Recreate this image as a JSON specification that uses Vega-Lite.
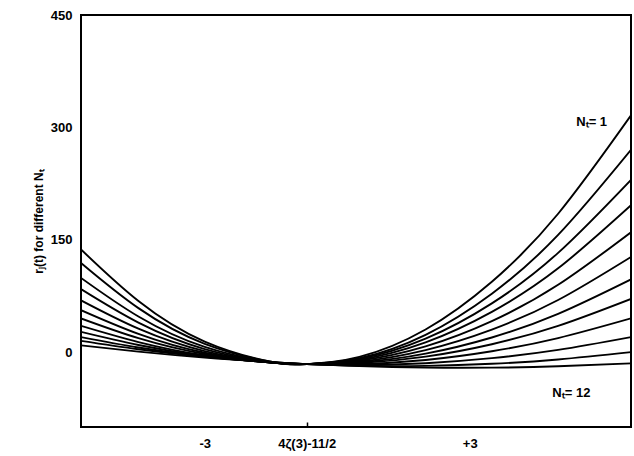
{
  "$schema": "https://vega.github.io/schema/vega-lite/v6.json",
  "width": 550,
  "height": 412,
  "autosize": {"type": "none"},
  "padding": {"left": 81, "top": 15, "right": 3, "bottom": 29},
  "background": "white",
  "config": {"view": {"stroke": "black", "strokeWidth": 2}, "font": "Liberation Sans"},
  "datasets": {
    "curves": [
      {"N":1,"t":-5.8,"r":137.0},{"N":1,"t":-4.5,"r":68.2},{"N":1,"t":-3,"r":14.1},{"N":1,"t":-1.5,"r":-12.8},{"N":1,"t":-0.69,"r":-16},{"N":1,"t":0.5,"r":-6.4},{"N":1,"t":2,"r":30.1},{"N":1,"t":3.5,"r":93.8},{"N":1,"t":5,"r":184.7},{"N":1,"t":6.65,"r":316.0},
      {"N":2,"t":-5.8,"r":119.0},{"N":2,"t":-4.5,"r":58.7},{"N":2,"t":-3,"r":11.1},{"N":2,"t":-1.5,"r":-12.9},{"N":2,"t":-0.69,"r":-16},{"N":2,"t":0.5,"r":-8.1},{"N":2,"t":2,"r":23.1},{"N":2,"t":3.5,"r":77.9},{"N":2,"t":5,"r":156.4},{"N":2,"t":6.65,"r":270.0},
      {"N":3,"t":-5.8,"r":99.0},{"N":3,"t":-4.5,"r":47.5},{"N":3,"t":-3,"r":6.9},{"N":3,"t":-1.5,"r":-13.4},{"N":3,"t":-0.69,"r":-16},{"N":3,"t":0.5,"r":-9.1},{"N":3,"t":2,"r":17.9},{"N":3,"t":3.5,"r":65.0},{"N":3,"t":5,"r":132.5},{"N":3,"t":6.65,"r":230.0},
      {"N":4,"t":-5.8,"r":84.0},{"N":4,"t":-4.5,"r":39.3},{"N":4,"t":-3,"r":4.0},{"N":4,"t":-1.5,"r":-13.7},{"N":4,"t":-0.69,"r":-16},{"N":4,"t":0.5,"r":-10.1},{"N":4,"t":2,"r":13.0},{"N":4,"t":3.5,"r":53.7},{"N":4,"t":5,"r":111.8},{"N":4,"t":6.65,"r":196.0},
      {"N":5,"t":-5.8,"r":69.0},{"N":5,"t":-4.5,"r":31.2},{"N":5,"t":-3,"r":1.3},{"N":5,"t":-1.5,"r":-13.9},{"N":5,"t":-0.69,"r":-16},{"N":5,"t":0.5,"r":-11.3},{"N":5,"t":2,"r":7.7},{"N":5,"t":3.5,"r":41.4},{"N":5,"t":5,"r":89.8},{"N":5,"t":6.65,"r":160.0},
      {"N":6,"t":-5.8,"r":56.0},{"N":6,"t":-4.5,"r":24.3},{"N":6,"t":-3,"r":-0.9},{"N":6,"t":-1.5,"r":-14.0},{"N":6,"t":-0.69,"r":-16},{"N":6,"t":0.5,"r":-12.6},{"N":6,"t":2,"r":2.7},{"N":6,"t":3.5,"r":30.0},{"N":6,"t":5,"r":69.5},{"N":6,"t":6.65,"r":127.0},
      {"N":7,"t":-5.8,"r":45.0},{"N":7,"t":-4.5,"r":18.6},{"N":7,"t":-3,"r":-2.6},{"N":7,"t":-1.5,"r":-14.0},{"N":7,"t":-0.69,"r":-16},{"N":7,"t":0.5,"r":-13.8},{"N":7,"t":2,"r":-2.1},{"N":7,"t":3.5,"r":19.5},{"N":7,"t":5,"r":51.0},{"N":7,"t":6.65,"r":97.0},
      {"N":8,"t":-5.8,"r":35.0},{"N":8,"t":-4.5,"r":13.4},{"N":8,"t":-3,"r":-4.3},{"N":8,"t":-1.5,"r":-14.0},{"N":8,"t":-0.69,"r":-16},{"N":8,"t":0.5,"r":-14.7},{"N":8,"t":2,"r":-6.1},{"N":8,"t":3.5,"r":10.5},{"N":8,"t":5,"r":35.0},{"N":8,"t":6.65,"r":71.0},
      {"N":9,"t":-5.8,"r":27.0},{"N":9,"t":-4.5,"r":9.4},{"N":9,"t":-3,"r":-5.3},{"N":9,"t":-1.5,"r":-13.9},{"N":9,"t":-0.69,"r":-16},{"N":9,"t":0.5,"r":-15.9},{"N":9,"t":2,"r":-10.5},{"N":9,"t":3.5,"r":1.1},{"N":9,"t":5,"r":18.7},{"N":9,"t":6.65,"r":45.0},
      {"N":10,"t":-5.8,"r":20.0},{"N":10,"t":-4.5,"r":6.1},{"N":10,"t":-3,"r":-5.9},{"N":10,"t":-1.5,"r":-13.6},{"N":10,"t":-0.69,"r":-16},{"N":10,"t":0.5,"r":-17.2},{"N":10,"t":2,"r":-14.8},{"N":10,"t":3.5,"r":-8.1},{"N":10,"t":5,"r":2.9},{"N":10,"t":6.65,"r":20.0},
      {"N":11,"t":-5.8,"r":15.0},{"N":11,"t":-4.5,"r":3.8},{"N":11,"t":-3,"r":-6.3},{"N":11,"t":-1.5,"r":-13.4},{"N":11,"t":-0.69,"r":-16},{"N":11,"t":0.5,"r":-18.3},{"N":11,"t":2,"r":-18.4},{"N":11,"t":3.5,"r":-15.6},{"N":11,"t":5,"r":-9.8},{"N":11,"t":6.65,"r":0.0},
      {"N":12,"t":-5.8,"r":9.0},{"N":12,"t":-4.5,"r":0.6},{"N":12,"t":-3,"r":-7.3},{"N":12,"t":-1.5,"r":-13.4},{"N":12,"t":-0.69,"r":-16},{"N":12,"t":0.5,"r":-18.8},{"N":12,"t":2,"r":-20.7},{"N":12,"t":3.5,"r":-20.8},{"N":12,"t":5,"r":-19.0},{"N":12,"t":6.65,"r":-15.0}
    ],
    "labels": [
      {"t": 5.76, "r": 307, "label": "Nₜ= 1"},
      {"t": 5.3, "r": -55, "label": "Nₜ= 12"}
    ]
  },
  "layer": [
    {
      "data": {"name": "curves"},
      "mark": {"type": "line", "interpolate": "natural", "color": "black", "strokeWidth": 1.9, "clip": true},
      "encoding": {
        "x": {
          "field": "t", "type": "quantitative",
          "scale": {"domain": [-5.8, 6.65], "nice": false, "zero": false},
          "axis": {
            "values": [-3, -0.6918, 3],
            "labelExpr": "datum.value == 3 ? '+3' : (datum.value == -3 ? '-3' : '4ζ(3)-11/2')",
            "grid": false, "domain": false,
            "ticks": true, "tickSize": -5, "tickWidth": 1.5,
            "tickColor": {"condition": {"test": "datum.value > -1 && datum.value < 0", "value": "black"}, "value": "transparent"},
            "labelPadding": 15, "labelFontSize": 13, "labelFontWeight": "bold",
            "labelColor": "black", "labelFont": "Liberation Sans", "title": null
          }
        },
        "y": {
          "field": "r", "type": "quantitative",
          "scale": {"domain": [-100, 450], "nice": false, "zero": false},
          "axis": {
            "values": [0, 150, 300, 450],
            "grid": false, "domain": false, "ticks": false,
            "labelPadding": 9, "labelFontSize": 13, "labelFontWeight": "bold",
            "labelColor": "black", "labelFont": "Liberation Sans",
            "title": "rⱼ(t) for different Nₜ",
            "titleFont": "Liberation Sans", "titleFontSize": 12, "titleFontWeight": "bold",
            "titleColor": "black", "titleX": -43, "titleY": 206,
            "titleAngle": -90, "titleAlign": "center", "titleBaseline": "middle"
          }
        },
        "detail": {"field": "N", "type": "nominal"}
      }
    },
    {
      "data": {"name": "labels"},
      "mark": {"type": "text", "font": "Liberation Sans", "fontWeight": "bold", "fontSize": 13, "color": "black"},
      "encoding": {
        "x": {"field": "t", "type": "quantitative"},
        "y": {"field": "r", "type": "quantitative"},
        "text": {"field": "label"}
      }
    }
  ]
}
